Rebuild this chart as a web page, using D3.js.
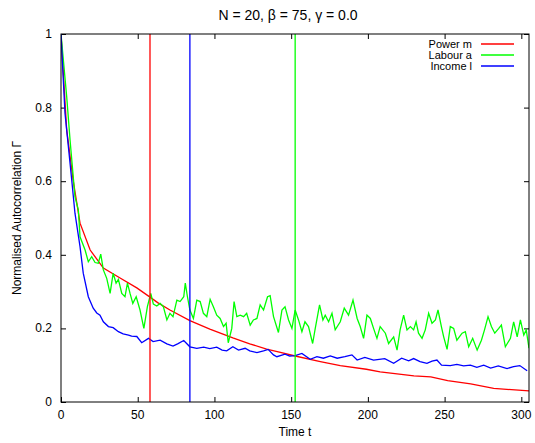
<!DOCTYPE html>
<html>
<head>
<meta charset="utf-8">
<script src="https://cdn.jsdelivr.net/npm/d3@7"></script>
<style>
  body { margin: 0; background: #fff; }
  svg { display: block; font-family: "Liberation Sans", Arial, sans-serif; }
</style>
</head>
<body>
<svg id="chart" width="535" height="443"></svg>
<script>
// autocorrelation curves, [t, value]
var powerM = [[0,1],[3.7,0.74],[8,0.60],[12.4,0.486],[19,0.413],[27.6,0.364],[38.5,0.337],[49.4,0.31],[58,0.285],[63,0.27],[71,0.25],[84,0.221],[97,0.198],[112,0.174],[123,0.158],[134,0.144],[143,0.135],[152.6,0.125],[169,0.11],[182,0.099],[199,0.089],[208,0.082],[230,0.071],[241,0.068],[252,0.058],[267,0.049],[282,0.037],[305,0.03]];

var labourA = [[0,1],[3.7,0.83],[5.9,0.712],[9.1,0.558],[11.3,0.522],[12.4,0.449],[15.7,0.413],[17.8,0.381],[20,0.395],[22.2,0.379],[24.3,0.377],[25.9,0.402],[27.6,0.359],[29.8,0.336],[32,0.295],[34,0.35],[35.9,0.323],[37.4,0.333],[39.6,0.295],[41.7,0.286],[43.3,0.323],[45,0.295],[46.8,0.268],[49,0.286],[51.5,0.25],[54,0.2],[56.3,0.259],[58.5,0.295],[60.2,0.266],[62.4,0.261],[64.6,0.268],[66.7,0.259],[69,0.223],[71,0.241],[73,0.232],[75.5,0.277],[77.6,0.273],[80,0.286],[81,0.323],[82.4,0.286],[84,0.25],[86.3,0.227],[88.5,0.277],[90.7,0.273],[92.8,0.241],[95,0.232],[97.2,0.279],[99.3,0.259],[101.5,0.236],[103.7,0.227],[105.9,0.205],[107.6,0.214],[109,0.161],[111.3,0.2],[112.8,0.273],[114.6,0.232],[116.8,0.236],[119,0.232],[121,0.241],[123.3,0.209],[125.4,0.223],[127.7,0.227],[129.8,0.264],[132,0.25],[134.6,0.286],[136.3,0.289],[138.5,0.232],[141.7,0.189],[144,0.25],[146,0.259],[148.3,0.223],[150.5,0.2],[152.6,0.25],[154.8,0.223],[157,0.191],[159,0.218],[161.3,0.205],[164,0.159],[165.7,0.2],[168.5,0.264],[170.7,0.223],[172.2,0.236],[174.4,0.218],[176.6,0.241],[178.7,0.196],[182,0.218],[184.6,0.255],[187.4,0.236],[190.3,0.277],[193,0.227],[195,0.205],[197.2,0.173],[199.4,0.236],[201.6,0.227],[203.7,0.2],[205.9,0.173],[208,0.205],[211.4,0.187],[213.5,0.159],[216.8,0.177],[219,0.141],[221,0.196],[223.3,0.236],[225.5,0.196],[227.7,0.205],[229.8,0.196],[231.4,0.218],[233,0.187],[235.3,0.173],[237.4,0.196],[239.6,0.241],[241.8,0.214],[244,0.223],[245.7,0.25],[247.9,0.205],[249.4,0.177],[251.6,0.143],[253.7,0.205],[255.9,0.2],[258,0.168],[261.4,0.187],[263.5,0.191],[265.7,0.15],[268.3,0.173],[271.2,0.141],[274,0.168],[276,0.196],[278.3,0.232],[280.5,0.205],[282.7,0.187],[285.3,0.2],[287,0.209],[289.6,0.15],[292.9,0.173],[295,0.218],[297.3,0.177],[299.4,0.223],[301.6,0.182],[303.2,0.196],[305,0.146]];

var incomeL = [[0,1],[2.6,0.785],[4.8,0.694],[7,0.603],[9.1,0.513],[12.4,0.422],[14.5,0.35],[17.8,0.286],[21,0.255],[23.3,0.242],[25.4,0.236],[27.6,0.218],[30.9,0.205],[34,0.202],[37.4,0.191],[40.5,0.185],[44,0.182],[46,0.179],[49.4,0.178],[52.6,0.161],[57,0.173],[60,0.164],[64.6,0.168],[69,0.158],[73,0.152],[76,0.158],[80,0.167],[84,0.15],[88.5,0.146],[93,0.149],[97,0.145],[101.5,0.149],[105,0.141],[108,0.139],[112,0.15],[115.7,0.141],[120,0.146],[123,0.139],[127.7,0.134],[132,0.139],[135,0.143],[138.5,0.128],[140.7,0.123],[146,0.13],[149,0.125],[152.6,0.126],[157,0.132],[162.4,0.116],[166.8,0.123],[171,0.119],[175.5,0.125],[180,0.119],[185,0.123],[189.6,0.128],[193,0.114],[198,0.121],[203.7,0.114],[211,0.118],[216.8,0.105],[222,0.119],[226.6,0.112],[229.8,0.118],[234,0.11],[238.5,0.105],[241.8,0.111],[245,0.114],[248,0.1],[253.7,0.099],[258,0.102],[262.4,0.098],[266.8,0.1],[271,0.094],[275.5,0.1],[280,0.092],[285,0.098],[290.7,0.091],[295,0.096],[299,0.099],[303.8,0.085]];

// correlation times (vertical markers)
var markerT = [58, 84, 152.6];

var seriesNames = ["Power m", "Labour a", "Income l"];
var seriesColors = ["#ff0000", "#00ff00", "#0000ff"];
var markerColors = ["#ff0000", "#0000ff", "#00ff00"];
var xTicks = [0, 50, 100, 150, 200, 250, 300];
var yTicks = [0, 0.2, 0.4, 0.6, 0.8, 1];

var svg = d3.select("#chart"),
    width = +svg.attr("width"),
    height = +svg.attr("height");
var margin = {top: 34, right: 6, bottom: 41, left: 61};
var w = width - margin.left - margin.right,
    h = height - margin.top - margin.bottom;

var x = d3.scaleLinear().domain([0, 305]).range([0, w]);
var y = d3.scaleLinear().domain([0, 1]).range([h, 0]);

var g = svg.append("g")
    .attr("transform", "translate(" + margin.left + "," + margin.top + ")");

svg.append("defs").append("clipPath").attr("id", "clip")
    .append("rect").attr("width", w).attr("height", h);

// ticks inward, mirrored on top/right like gnuplot
function tickAxis(axis, tr) {
    var a = g.append("g").attr("transform", tr).call(axis);
    a.select(".domain").remove();
    a.selectAll("line").attr("stroke", "#000");
    a.selectAll("text").remove();
}
tickAxis(d3.axisBottom(x).tickValues(xTicks).tickSize(-5), "translate(0," + h + ")");
tickAxis(d3.axisTop(x).tickValues(xTicks).tickSize(-5), "translate(0,0)");
tickAxis(d3.axisLeft(y).tickValues(yTicks).tickSize(-5), "translate(0,0)");
tickAxis(d3.axisRight(y).tickValues(yTicks).tickSize(-5), "translate(" + w + ",0)");

g.selectAll(".xlab").data(xTicks).enter().append("text")
    .attr("x", function(d) { return x(d); })
    .attr("y", h + 17)
    .attr("text-anchor", "middle")
    .style("font-size", "12px")
    .text(function(d) { return d; });

g.selectAll(".ylab").data(yTicks).enter().append("text")
    .attr("x", -9)
    .attr("y", function(d) { return y(d) + 4; })
    .attr("text-anchor", "end")
    .style("font-size", "12px")
    .text(function(d) { return d; });

var plot = g.append("g").attr("clip-path", "url(#clip)");

var line = d3.line()
    .x(function(d) { return x(d[0]); })
    .y(function(d) { return y(d[1]); });

[powerM, labourA, incomeL].forEach(function(s, i) {
    plot.append("path")
        .datum(s)
        .attr("fill", "none")
        .attr("stroke", seriesColors[i])
        .attr("stroke-width", 1.3)
        .attr("d", line);
});

plot.selectAll(".marker").data(markerT).enter().append("line")
    .attr("x1", function(d) { return x(d); })
    .attr("x2", function(d) { return x(d); })
    .attr("y1", 0)
    .attr("y2", h)
    .attr("stroke", function(d, i) { return markerColors[i]; })
    .attr("stroke-width", 1.3);

g.append("rect")
    .attr("width", w).attr("height", h)
    .attr("fill", "none")
    .attr("stroke", "#000")
    .attr("stroke-width", 1);

// legend
var legend = g.append("g").attr("transform", "translate(" + (w - 57) + ",10)");
seriesNames.forEach(function(name, i) {
    var row = legend.append("g").attr("transform", "translate(0," + (i * 11) + ")");
    row.append("text")
        .attr("x", 0).attr("y", 4)
        .attr("text-anchor", "end")
        .style("font-size", "11px")
        .text(name);
    row.append("line")
        .attr("x1", 9).attr("x2", 42)
        .attr("stroke", seriesColors[i])
        .attr("stroke-width", 1.3);
});

svg.append("text")
    .attr("x", 288).attr("y", 20)
    .attr("text-anchor", "middle")
    .style("font-size", "14px")
    .text("N = 20, β = 75, γ = 0.0");

svg.append("text")
    .attr("x", margin.left + w / 2).attr("y", 436)
    .attr("text-anchor", "middle")
    .style("font-size", "12px")
    .text("Time t");

svg.append("text")
    .attr("transform", "translate(21," + (margin.top + h / 2) + ") rotate(-90)")
    .attr("text-anchor", "middle")
    .style("font-size", "12px")
    .text("Normalised Autocorrelation Γ");
</script>
</body>
</html>
